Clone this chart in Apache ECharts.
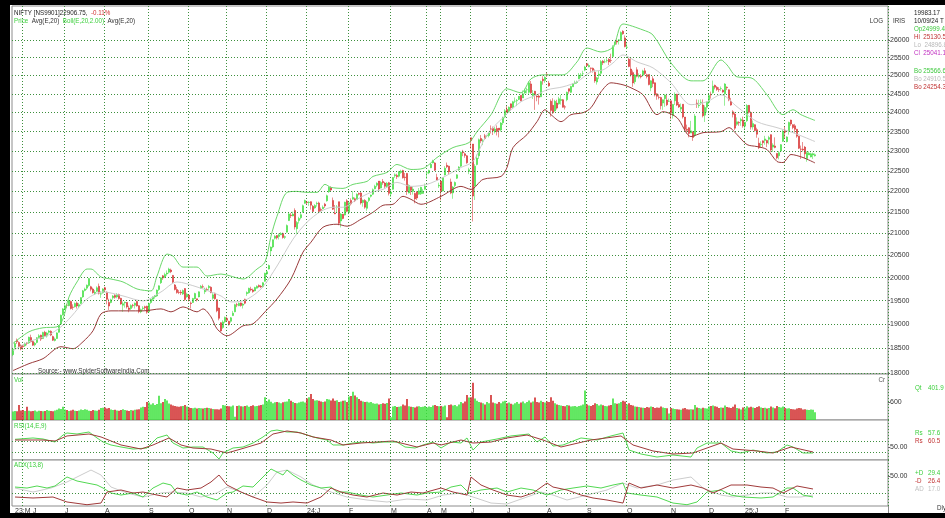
<!DOCTYPE html>
<html>
<head>
<meta charset="utf-8">
<script src="https://cdn.jsdelivr.net/npm/echarts@6/dist/echarts.min.js"></script>
<style>
  html, body { margin: 0; padding: 0; background: #fff; }
  #chart { width: 945px; height: 518px; }
</style>
</head>
<body>
<div id="chart"></div>
<script>
const FONT = '"Liberation Sans", Arial, sans-serif'

// daily candles, May 2023 .. Feb 2025 (one row per month)
const closes = [
  18480, 18598, 18633, 18534, 18487,
  18534, 18593, 18599, 18726, 18635, 18563, 18601, 18716, 18756, 18688, 18826, 18755, 18816, 18857, 18771, 18665, 18691, 18817, 18972, 19189, 19322,
  19389, 19398, 19497, 19331, 19356, 19439, 19384, 19413, 19564, 19711, 19749, 19833, 19979, 19745, 19672, 19681, 19778, 19659, 19646, 19753,
  19733, 19527, 19382, 19517, 19597, 19571, 19632, 19543, 19428, 19434, 19465, 19365, 19310, 19393, 19396, 19444, 19386, 19265, 19306, 19342, 19347, 19253,
  19435, 19528, 19574, 19611, 19727, 19820, 19996, 19993, 20070, 20103, 20192, 20133, 19901, 19742, 19674, 19674, 19665, 19716, 19524, 19638,
  19529, 19436, 19545, 19653, 19512, 19690, 19811, 19794, 19751, 19731, 19811, 19671, 19624, 19542, 19281, 19122, 18857, 19047, 19141,
  19080, 18989, 19133, 19231, 19412, 19406, 19444, 19395, 19425, 19444, 19675, 19765, 19732, 19694, 19784, 19812, 19802, 19794, 19889, 20097,
  20133, 20268, 20687, 20855, 20937, 20901, 20969, 20997, 20906, 20926, 21183, 21456, 21418, 21453, 21150, 21255, 21349, 21441, 21654, 21778,
  21731, 21741, 21665, 21517, 21658, 21710, 21513, 21544, 21618, 21647, 21894, 22097, 22032, 21571, 21462, 21622, 21238, 21453, 21352, 21737, 21522,
  21725, 21697, 21853, 21771, 21929, 21930, 21718, 21782, 21616, 21743, 21840, 21911, 22040, 22122, 22197, 22055, 22217, 22212, 22122, 22198, 21951,
  21982, 22338, 22405, 22356, 22474, 22493, 22332, 22335, 21997, 22146, 22023, 22055, 21817, 21839, 22011, 22096, 22004, 22123,
  22453, 22514, 22666, 22753, 22519, 22272, 22147,
  21995, 22336, 22570, 22604, 22476, 21957, 22104, 22217, 22403, 22597, 22967, 22957, 22888, 22704, 22531,
  23264, 21884, 22620, 22821, 23290, 23259, 23264, 23323, 23399, 23465, 23557, 23516, 23567, 23501, 23538, 23721, 23868, 24044,
  24011, 24141, 24124, 24286, 24302, 24323, 24433, 24316, 24502, 24586, 24613, 24800, 24530, 24509, 24479, 24413, 24406, 24834, 24857, 24951,
  25010, 24718, 24055, 23992, 24297, 24117, 24367, 24347, 24139, 24143, 24541, 24572, 24698, 24770, 24811, 24823, 25010, 25017, 25052, 25235,
  25279, 25278, 25198, 25145, 24852, 24936, 25041, 25388, 25356, 25383, 25418, 25377, 25415, 25791, 25939, 25940, 26005, 26216, 26178, 25811,
  25797, 25250, 25014, 24796, 25013, 24981, 24998, 24964, 25128, 25057, 24971, 24750, 24854, 24781, 24472, 24435, 24399, 24180, 24339, 24466, 24205, 24304,
  23995, 24213, 24484, 24199, 24148, 24141, 23883, 23559, 23532, 23453, 23518, 23349, 23907, 24221, 24194, 24274, 23914, 24131, 24276,
  24457, 24467, 24708, 24677, 24619, 24610, 24641, 24548, 24768, 24668, 24336, 24198, 23951, 23587, 23753, 23727, 23813, 23644,
  23742, 24188, 24005, 23616, 23707, 23526, 23431, 23085, 23176, 23213, 23311, 23203, 23344, 23024, 23155, 23092, 22829, 22957, 23163, 23508,
  23482, 23361, 23739, 23696, 23603, 23560, 23381, 23071, 23045, 23031, 22929, 22959, 22945, 22932, 22933, 22906.75
]
const opens = [
  18370, 18520, 18660, 18620, 18560,
  18550, 18550, 18600, 18610, 18720, 18640, 18570, 18620, 18720, 18770, 18700, 18830, 18750, 18830, 18850, 18740, 18660, 18700, 18830, 19000, 19200,
  19320, 19400, 19390, 19480, 19360, 19370, 19450, 19380, 19440, 19580, 19720, 19770, 19830, 19800, 19750, 19650, 19700, 19810, 19640, 19670,
  19780, 19680, 19460, 19460, 19560, 19610, 19580, 19630, 19550, 19400, 19450, 19460, 19340, 19330, 19400, 19400, 19480, 19390, 19260, 19330, 19370, 19380,
  19260, 19460, 19530, 19580, 19600, 19740, 19890, 20040, 20010, 20080, 20120, 20170, 20050, 19840, 19740, 19680, 19680, 19640, 19760, 19580,
  19620, 19450, 19460, 19540, 19540, 19580, 19770, 19800, 19690, 19740, 19780, 19790, 19550, 19660, 19520, 19340, 19030, 18930, 19050,
  19120, 19060, 19060, 19180, 19260, 19410, 19390, 19450, 19400, 19530, 19650, 19670, 19750, 19730, 19710, 19770, 19830, 19810, 19800, 19920,
  20080, 20190, 20600, 20690, 20890, 20950, 20930, 20970, 21000, 20910, 21030, 21300, 21430, 21410, 21540, 21110, 21300, 21370, 21500, 21710,
  21740, 21730, 21750, 21640, 21600, 21700, 21720, 21560, 21580, 21690, 21770, 21990, 22080, 21780, 21480, 21620, 21750, 21290, 21450, 21430, 21770,
  21490, 21780, 21810, 21820, 21800, 21950, 21960, 21730, 21780, 21590, 21780, 21880, 21930, 22060, 22150, 22250, 22080, 22240, 22200, 22110, 22210,
  21940, 22050, 22380, 22390, 22370, 22460, 22510, 22350, 22440, 21960, 22120, 22000, 21950, 21990, 21930, 21940, 21950, 22050,
  22450, 22450, 22580, 22700, 22700, 22340, 22130,
  22250, 22010, 22400, 22640, 22620, 22230, 21960, 22140, 22320, 22530, 22620, 22980, 22930, 22880, 22490,
  23340, 23180, 22130, 22660, 22880, 23320, 23250, 23390, 23390, 23400, 23570, 23580, 23490, 23580, 23590, 23540, 23730, 23880,
  24080, 24010, 24230, 24140, 24300, 24310, 24350, 24460, 24390, 24520, 24610, 24540, 24770, 24450, 24570, 24440, 24440, 24420, 24900, 24860,
  25030, 24790, 24300, 24190, 24040, 24250, 24230, 24320, 24340, 24150, 24340, 24640, 24540, 24690, 24780, 24810, 24910, 25000, 25050, 25150,
  25330, 25240, 25210, 25200, 25090, 24820, 25000, 25060, 25400, 25380, 25410, 25450, 25420, 25530, 25870, 25970, 25980, 26010, 26250, 26060,
  25790, 25450, 25180, 25080, 24830, 25160, 24970, 24990, 25010, 25130, 25020, 25030, 24660, 24910, 24800, 24500, 24410, 24400, 24250, 24370, 24330, 24300,
  24310, 23920, 24310, 24490, 24210, 24090, 24220, 23880, 23560, 23600, 23460, 23490, 23410, 24250, 24180, 24260, 24200, 23930, 24140,
  24270, 24490, 24530, 24730, 24680, 24620, 24640, 24600, 24500, 24680, 24610, 24300, 24020, 23960, 23690, 23740, 23780, 23800,
  23640, 23780, 24190, 24000, 23620, 23680, 23550, 23200, 23160, 23260, 23270, 23270, 23300, 23420, 23100, 23130, 22940, 22880, 23000, 23250,
  23530, 23240, 23510, 23800, 23680, 23650, 23560, 23380, 23050, 23050, 23100, 22810, 22900, 22850, 22900, 22880
]
const highs = [
  18510, 18640, 18700, 18640, 18580,
  18570, 18620, 18630, 18740, 18780, 18660, 18630, 18730, 18790, 18780, 18840, 18860, 18840, 18880, 18870, 18760, 18720, 18830, 18980, 19200, 19340,
  19430, 19430, 19520, 19500, 19420, 19460, 19480, 19450, 19570, 19730, 19780, 19850, 19990, 19820, 19780, 19730, 19810, 19870, 19700, 19770,
  19800, 19700, 19540, 19540, 19620, 19640, 19660, 19650, 19560, 19480, 19480, 19470, 19390, 19420, 19430, 19460, 19500, 19400, 19330, 19380, 19390, 19390,
  19460, 19550, 19590, 19620, 19740, 19830, 20010, 20060, 20110, 20160, 20220, 20200, 20060, 19860, 19800, 19730, 19730, 19740, 19770, 19670,
  19630, 19480, 19560, 19670, 19540, 19700, 19840, 19850, 19780, 19780, 19840, 19810, 19660, 19670, 19530, 19350, 19040, 19080, 19160,
  19160, 19070, 19150, 19280, 19430, 19450, 19460, 19460, 19450, 19540, 19700, 19780, 19800, 19760, 19800, 19830, 19850, 19840, 19900, 20110,
  20160, 20290, 20700, 20860, 20960, 20960, 21000, 21030, 21020, 20950, 21210, 21490, 21480, 21510, 21590, 21290, 21390, 21480, 21680, 21800,
  21770, 21760, 21760, 21670, 21690, 21750, 21750, 21610, 21660, 21720, 21920, 22120, 22120, 21850, 21670, 21670, 21750, 21480, 21460, 21750, 21810,
  21740, 21830, 22000, 21850, 21950, 21970, 21980, 21800, 21810, 21770, 21860, 21920, 22070, 22160, 22220, 22250, 22250, 22300, 22230, 22230, 22230,
  22060, 22350, 22440, 22430, 22500, 22530, 22530, 22450, 22450, 22170, 22130, 22120, 21970, 22000, 22080, 22110, 22060, 22190,
  22480, 22530, 22700, 22780, 22720, 22430, 22210,
  22260, 22350, 22620, 22710, 22630, 22310, 22130, 22240, 22420, 22620, 22990, 23030, 22960, 22900, 22580,
  23340, 23180, 22670, 22910, 23320, 23410, 23310, 23440, 23410, 23490, 23660, 23630, 23620, 23660, 23590, 23750, 23890, 24090,
  24170, 24160, 24240, 24310, 24400, 24360, 24440, 24460, 24590, 24640, 24660, 24840, 24850, 24600, 24580, 24480, 24500, 24860, 24980, 24980,
  25080, 24850, 24350, 24380, 24340, 24340, 24420, 24470, 24360, 24200, 24560, 24640, 24720, 24790, 24860, 24860, 25070, 25070, 25130, 25270,
  25340, 25330, 25220, 25220, 25170, 24960, 25130, 25430, 25430, 25450, 25480, 25480, 25610, 25850, 25960, 26010, 26030, 26250, 26280, 26130,
  25910, 25490, 25490, 25140, 25040, 25230, 25060, 25040, 25160, 25210, 25050, 25030, 24870, 24980, 24810, 24510, 24490, 24420, 24350, 24490, 24500, 24370,
  24320, 24230, 24540, 24500, 24280, 24240, 24220, 23880, 23680, 23610, 23780, 23510, 23960, 24350, 24340, 24350, 24350, 24190, 24300,
  24480, 24560, 24860, 24750, 24710, 24680, 24700, 24620, 24790, 24700, 24620, 24390, 24060, 24000, 23870, 23770, 23860, 23890,
  23760, 24220, 24200, 24030, 23790, 23690, 23600, 23340, 23250, 23270, 23390, 23290, 23390, 23430, 23200, 23350, 22940, 23000, 23180, 23550,
  23630, 23380, 23760, 23810, 23690, 23700, 23570, 23390, 23140, 23230, 23130, 22990, 22990, 22960, 22960, 22940
]
const lows = [
  18340, 18490, 18590, 18480, 18460,
  18470, 18530, 18560, 18590, 18620, 18550, 18540, 18600, 18700, 18650, 18690, 18740, 18720, 18800, 18750, 18650, 18640, 18690, 18820, 18990, 19180,
  19300, 19340, 19380, 19310, 19300, 19350, 19330, 19340, 19420, 19560, 19700, 19730, 19800, 19700, 19650, 19620, 19680, 19630, 19560, 19650,
  19700, 19420, 19300, 19440, 19520, 19540, 19550, 19520, 19410, 19260, 19350, 19330, 19250, 19300, 19350, 19330, 19370, 19230, 19230, 19290, 19300, 19220,
  19250, 19430, 19490, 19540, 19580, 19710, 19860, 19950, 19990, 20040, 20090, 20100, 19880, 19720, 19650, 19640, 19620, 19620, 19490, 19560,
  19480, 19330, 19450, 19530, 19480, 19570, 19760, 19770, 19640, 19700, 19720, 19660, 19520, 19520, 19250, 19080, 18840, 18900, 19020,
  19050, 18970, 19030, 19170, 19250, 19360, 19380, 19370, 19330, 19420, 19600, 19650, 19700, 19670, 19700, 19760, 19780, 19770, 19780, 19910,
  20050, 20180, 20500, 20660, 20860, 20860, 20860, 20960, 20880, 20870, 21020, 21290, 21360, 21400, 21090, 20980, 21230, 21330, 21490, 21700,
  21680, 21650, 21560, 21500, 21580, 21630, 21490, 21500, 21570, 21600, 21750, 21960, 21990, 21550, 21450, 21500, 21190, 21140, 21330, 21420, 21500,
  21450, 21660, 21800, 21740, 21790, 21900, 21680, 21630, 21580, 21530, 21740, 21850, 21910, 22050, 22100, 22020, 22070, 22160, 22070, 22080, 21900,
  21860, 22040, 22330, 22300, 22340, 22430, 22310, 22260, 21910, 21950, 21910, 21920, 21710, 21790, 21920, 21910, 21940, 22040,
  22300, 22420, 22570, 22690, 22500, 22260, 22080,
  21780, 22000, 22390, 22570, 22400, 21930, 21820, 22100, 22300, 22500, 22600, 22870, 22830, 22680, 22420,
  23060, 21280, 21790, 22640, 22800, 23200, 23150, 23290, 23350, 23350, 23450, 23410, 23450, 23400, 23350, 23500, 23670, 23850,
  23990, 23990, 24070, 24100, 24250, 24170, 24330, 24300, 24390, 24500, 24510, 24500, 24500, 24360, 24070, 24300, 24210, 24410, 24750, 24800,
  24960, 24690, 23890, 23960, 24020, 24080, 24210, 24210, 24130, 24080, 24300, 24500, 24520, 24690, 24760, 24770, 24900, 24930, 24990, 25120,
  25240, 25230, 25080, 25080, 24800, 24750, 24900, 25010, 25290, 25340, 25360, 25290, 25350, 25520, 25810, 25870, 25870, 25970, 26150, 25790,
  25740, 25230, 24970, 24690, 24760, 24950, 24920, 24920, 24970, 25010, 24920, 24730, 24570, 24680, 24430, 24340, 24350, 24080, 24070, 24150, 24170, 24280,
  23820, 23840, 24200, 24170, 24120, 24010, 23840, 23510, 23480, 23350, 23460, 23260, 23360, 24120, 24120, 24200, 23870, 23750, 24000,
  24220, 24370, 24500, 24620, 24580, 24550, 24580, 24530, 24180, 24600, 24300, 24180, 23870, 23540, 23650, 23650, 23650, 23600,
  23560, 23750, 23970, 23550, 23550, 23500, 23340, 23050, 23080, 23100, 23160, 23100, 23170, 22980, 22980, 23070, 22790, 22790, 22970, 23230,
  23320, 23220, 23420, 23650, 23560, 23470, 23340, 23050, 22800, 22990, 22810, 22730, 22900, 22840, 22800, 22860
]
// volume, crore
const volumes = [
  280, 300, 290, 500, 320,
  330, 300, 440, 310, 290, 300, 320, 280, 310, 300, 290, 300, 330, 310, 300, 290, 320, 340, 380, 370, 440,
  350, 330, 300, 320, 340, 310, 300, 320, 350, 330, 360, 340, 310, 300, 330, 320, 310, 340, 400, 410,
  420, 380, 400, 350, 330, 340, 320, 310, 330, 360, 330, 320, 300, 330, 320, 340, 350, 360, 420, 440, 430, 600,
  580, 520, 560, 500, 530, 810, 560, 600, 700, 650, 550, 520, 480, 470, 450, 440, 460, 470, 500, 450,
  420, 400, 390, 410, 380, 400, 390, 380, 400, 410, 400, 380, 370, 360, 360, 350, 380, 500, 480,
  470, 460, 450, 480, 110, 470, 480, 460, 450, 470, 480, 440, 470, 490, 460, 470, 480, 500, 520, 760,
  620, 680, 610, 560, 590, 600, 580, 560, 590, 610, 620, 700, 640, 600, 570, 560, 580, 610, 620, 580,
  720, 760, 870, 700, 650, 660, 640, 620, 600, 620, 700, 680, 650, 720, 640, 660, 600, 620, 640, 650, 600,
  780, 800, 940, 820, 760, 700, 640, 620, 600, 610, 580, 600, 560, 540, 550, 520, 530, 560, 540, 570, 720,
  90, 450, 470, 430, 440, 460, 520, 480, 700, 460, 440, 430, 420, 450, 460, 430, 440, 470,
  420, 450, 430, 480, 500, 470, 460,
  470, 450, 480, 90, 500, 520, 480, 500, 460, 520, 600, 560, 620, 830, 750,
  760, 1240, 720, 640, 600, 580, 560, 520, 600, 560, 830, 580, 560, 540, 600, 560, 620, 640,
  560, 580, 540, 520, 560, 600, 540, 580, 620, 560, 600, 650, 580, 620, 750, 600, 580, 640, 600, 580,
  620, 600, 760, 640, 560, 520, 500, 480, 470, 460, 500, 480, 450, 460, 470, 440, 470, 480, 520, 980,
  520, 480, 470, 500, 560, 530, 480, 520, 490, 470, 460, 480, 500, 720, 560, 540, 560, 600, 640, 620,
  520, 560, 500, 480, 450, 440, 430, 420, 410, 400, 430, 420, 450, 430, 400, 420, 410, 450, 420, 400, 390, 220,
  400, 380, 370, 360, 350, 340, 380, 400, 360, 350, 360, 350, 500, 420, 400, 380, 410, 390, 380,
  450, 470, 480, 460, 440, 400, 420, 410, 480, 430, 420, 400, 440, 520, 400, 380, 350, 420,
  390, 460, 420, 440, 420, 400, 430, 460, 420, 400, 410, 380, 400, 450, 420, 390, 470, 430, 420, 450,
  400, 380, 390, 370, 360, 350, 380, 400, 390, 350, 360, 340, 330, 350, 340, 254.54
]

// overlay lines: [candle index, value]
const bollUpper = [[0,18600],[8,18840],[15,18923],[22,18943],[25,19111],[28,19579],[32,19905],[37,20191],[39,20191],[44,20014],[49,19970],[55,19905],[62,19752],[69,19709],[72,20036],[77,20527],[80,20482],[85,20235],[92,20235],[97,20036],[104,20080],[115,19970],[122,20191],[126,20347],[129,20937],[132,21403],[137,21974],[142,21998],[147,21974],[152,21974],[156,22169],[159,22096],[165,22071],[170,22169],[177,22242],[180,22365],[187,22463],[192,22662],[199,22537],[205,22562],[212,22836],[220,23089],[228,23216],[232,23498],[239,23942],[247,24636],[254,24527],[259,24908],[265,25018],[275,25018],[282,25378],[287,25772],[294,25658],[300,25800],[305,26463],[315,26289],[320,26143],[329,25350],[339,24853],[345,24853],[354,25434],[357,25294],[362,24963],[369,24936],[377,24474],[385,23942],[390,24074],[394,23942],[401,23790]]
const bollLower = [[0,18050],[8,18189],[15,18289],[24,18532],[30,18491],[35,18634],[40,18861],[44,19216],[49,19280],[65,19280],[74,19322],[79,19259],[85,19365],[92,19259],[95,19322],[99,19153],[102,18902],[107,18757],[115,18964],[120,19006],[126,19259],[132,19536],[139,19970],[145,20572],[149,20799],[155,21145],[162,21215],[167,21169],[174,21332],[180,21497],[185,21663],[190,21687],[195,21878],[199,21806],[204,21687],[214,21878],[224,22120],[229,22047],[235,22291],[244,22365],[247,22587],[250,23089],[257,23421],[262,23759],[266,24074],[269,23942],[274,23759],[279,23942],[285,23995],[289,24127],[294,24555],[299,24799],[305,24745],[309,24663],[315,24474],[322,23942],[325,24021],[332,23863],[339,23370],[345,23472],[354,23498],[358,23602],[362,23421],[367,23165],[372,23114],[377,23038],[382,22736],[385,22711],[389,22912],[395,22836],[401,22700]]
const ema20 = [[0,18451],[8,18634],[17,18758],[24,18943],[29,19153],[37,19536],[45,19687],[55,19600],[65,19493],[74,19687],[82,19905],[92,19796],[99,19687],[104,19600],[109,19472],[115,19493],[124,19752],[132,20258],[140,20868],[147,21262],[154,21521],[160,21616],[165,21616],[172,21806],[179,21975],[185,22047],[192,22218],[199,22120],[207,22169],[215,22340],[224,22587],[230,22736],[237,23421],[245,23863],[254,24287],[262,24474],[267,24609],[275,24690],[282,24826],[289,25101],[295,25156],[300,25350],[305,25574],[312,25378],[320,25211],[329,24799],[339,24207],[347,24287],[354,24474],[362,24154],[372,23759],[382,23602],[390,23472],[401,23242]]
const rsiLine = [[1,64.5],[10,67],[15,65.1],[21,59.4],[25,72.6],[27,76.4],[32,74.5],[38,78.3],[42,67],[45,59.4],[49,53.8],[54,50],[60,46.2],[67,48.1],[72,67],[77,72.6],[80,57.5],[85,48.1],[90,50],[95,50],[100,38.7],[103,27.4],[105,38.7],[110,48.1],[115,50],[120,57.5],[125,68.9],[129,80.2],[132,82],[137,78.3],[142,78.3],[147,72.6],[152,67],[157,63.2],[160,53.8],[165,53.8],[170,57.5],[175,59.4],[180,57.5],[185,59.4],[192,59.4],[196,50],[201,48.1],[205,53.8],[210,59.4],[214,48.1],[219,59.4],[224,57.5],[227,67],[230,44.3],[234,59.4],[242,65.1],[249,70.8],[258,74.5],[262,59.4],[266,68.9],[270,51.9],[275,53.8],[284,67],[292,63.2],[299,70.8],[305,76.4],[308,44.3],[314,36.8],[322,31.1],[330,34.9],[339,31.1],[342,48.1],[347,57.5],[354,57.5],[359,42.5],[364,38.7],[370,44.3],[377,38.7],[382,40.6],[387,53.8],[390,50],[395,38.7],[400,38.7]]
const rsiSignal = [[1,63.2],[15,63.2],[21,61.3],[27,70.8],[38,74.5],[44,68.9],[54,53.8],[64,46.2],[70,53.8],[78,67],[84,53.8],[90,48.1],[99,46.2],[107,38.7],[114,46.2],[124,57.5],[130,74.5],[137,80.2],[144,76.4],[150,68.9],[159,63.2],[165,53.8],[174,57.5],[190,61.3],[202,50],[210,57.5],[214,53.8],[224,63.2],[230,57.5],[239,59.4],[247,67],[257,72.6],[265,63.2],[274,50],[289,63.2],[304,70.8],[310,53.8],[320,42.5],[330,36.8],[340,38.7],[354,57.5],[360,46.2],[372,42.5],[380,38.7],[389,50],[400,40.6]]
const plusDI = [[1,31],[7,29.3],[12,32.8],[17,29.3],[21,32.8],[25,43.1],[27,48.3],[32,41.4],[37,37.9],[42,34.5],[45,29.3],[49,20.7],[54,17.2],[60,20.7],[65,13.8],[70,29.3],[75,37.9],[79,34.5],[82,20.7],[87,17.2],[92,22.4],[97,13.8],[102,8.6],[107,20.7],[110,22.4],[115,32.8],[120,31],[125,48.3],[129,62.1],[132,56.9],[135,51.7],[137,60.3],[140,51.7],[144,43.1],[149,34.5],[154,29.3],[159,31],[162,22.4],[167,22.4],[174,17.2],[180,13.8],[187,17.2],[194,20.7],[202,17.2],[207,20.7],[214,22.4],[219,31],[224,34.5],[228,20.7],[234,25.9],[242,29.3],[247,22.4],[254,29.3],[260,25.9],[267,17.2],[274,25.9],[280,29.3],[287,32.8],[294,29.3],[300,34.5],[305,37.9],[307,20.7],[314,17.2],[322,13.8],[330,3.4],[337,0.5],[342,5.2],[347,22.4],[354,25.9],[359,17.2],[365,13.8],[374,12.1],[380,13.8],[387,29.3],[390,29.3],[395,17.2],[400,13.8]]
const minusDI = [[1,13.8],[10,12.1],[20,13.8],[27,5.2],[37,0.5],[44,3.4],[47,22.4],[54,25.9],[60,20.7],[65,22.4],[72,17.2],[77,13.8],[82,29.3],[87,25.9],[94,29.3],[99,39.7],[103,51.7],[107,34.5],[114,22.4],[120,13.8],[127,5.2],[134,3.4],[140,5.2],[147,3.4],[154,13.8],[159,29.3],[164,22.4],[170,17.2],[177,13.8],[185,20.7],[192,17.2],[199,22.4],[205,20.7],[214,29.3],[220,22.4],[227,17.2],[229,48.3],[234,34.5],[240,25.9],[247,17.2],[254,13.8],[260,20.7],[267,37.9],[270,31],[277,25.9],[284,17.2],[290,12.1],[297,8.6],[305,3.4],[308,37.9],[314,29.3],[322,34.5],[330,29.3],[339,34.5],[345,29.3],[350,20.7],[359,34.5],[367,34.5],[374,31],[380,29.3],[385,20.7],[392,32.8],[400,27.6]]
const adxLine = [[1,29.3],[10,22.4],[19,29.3],[27,39.7],[39,60.3],[44,51.7],[49,31],[57,20.7],[65,13.8],[74,20.7],[80,22.4],[87,20.7],[94,13.8],[102,20.7],[107,31],[114,22.4],[120,13.8],[127,34.5],[132,56.9],[137,60.3],[144,48.3],[150,34.5],[159,22.4],[167,13.8],[177,8.6],[187,5.2],[197,10.3],[207,8.6],[215,17.2],[224,20.7],[230,13.8],[239,3.4],[247,1.7],[257,13.8],[264,22.4],[270,17.2],[277,8.6],[287,17.2],[297,25.9],[305,37.9],[312,29.3],[322,34.5],[330,43.1],[339,48.3],[345,29.3],[354,17.2],[360,13.8],[367,17.2],[374,20.7],[380,20.7],[387,13.8],[394,13.8],[400,17.2]]

const priceTicks = [18000, 18500, 19000, 19500, 20000, 20500, 21000, 21500, 22000, 22500, 23000, 23500, 24000, 24500, 25000, 25500, 26000]
const monthGrid = [5, 26, 46, 68, 88, 107, 127, 147, 168, 189, 207, 214, 229, 247, 267, 287, 307, 329, 348, 366, 386]
const monthLabels = [[1,'23:M'],[10,'J'],[26,'J'],[46,'A'],[68,'S'],[88,'O'],[107,'N'],[127,'D'],[147,'24:J'],[168,'F'],[189,'M'],[207,'A'],[214,'M'],[229,'J'],[247,'J'],[267,'A'],[287,'S'],[307,'O'],[329,'N'],[348,'D'],[366,'25:J'],[386,'F']]

const SLOTS = 438
const categories = Array.from({ length: SLOTS }, (_, i) => String(i))
const labelAt = {}
monthLabels.forEach(([i, t]) => { labelAt[i] = t })
const gridSet = new Set(monthGrid)

const UP = '#33dd33', DOWN = '#d42020'
const GRIDC = '#3d8f3d'
const candles = closes.map((c, i) => [opens[i], c, lows[i], highs[i]])
const volBars = volumes.map((v, i) => ({
    value: v,
    itemStyle: { color: closes[i] >= opens[i] ? '#3be23b' : '#d02a2a' }
}))

// panels share one x scale: 438 slots of exactly 2px
const panels = [
    { top: 6, height: 368 },
    { top: 374, height: 46 },
    { top: 420, height: 40 },
    { top: 460, height: 46 }
]

const dotted = { color: GRIDC, type: [1, 2], width: 1 }
const SX = 0.78

function txt(x, y, text, fill, align) {
    return {
        type: 'text', x: x, y: y, z: 110, scaleX: SX,
        style: { text: text, fill: fill, font: '8px ' + FONT, verticalAlign: 'middle', align: align || 'left' }
    }
}
function richTxt(x, y, text, rich) {
    return {
        type: 'text', x: x, y: y, z: 110, scaleX: SX,
        style: { text: text, font: '8px ' + FONT, verticalAlign: 'middle', rich: rich }
    }
}

const chart = echarts.init(document.getElementById('chart'))
chart.setOption({
    animation: false,
    backgroundColor: '#fff',
    grid: panels.map(p => ({
        left: 12, width: 876, top: p.top, height: p.height,
        show: true, borderColor: '#8c8c8c', borderWidth: 1, backgroundColor: '#fff'
    })),
    xAxis: panels.map((p, k) => ({
        type: 'category', gridIndex: k, data: categories, boundaryGap: true,
        axisLine: { show: false }, axisTick: { show: false },
        axisLabel: k === 3 ? {
            show: true,
            interval: (i) => labelAt[i] !== undefined,
            formatter: (v, i) => labelAt[i] || '',
            align: 'left', margin: 2, fontSize: 7, color: '#333', fontFamily: FONT
        } : { show: false },
        splitLine: { show: true, interval: (i) => gridSet.has(i), lineStyle: dotted }
    })),
    yAxis: [
        {
            type: 'log', gridIndex: 0, position: 'right', logBase: 10, min: 17982, max: 26994,
            axisLine: { show: false }, splitLine: { show: false },
            axisTick: { show: true, customValues: priceTicks, length: 2, lineStyle: { color: '#666' } },
            axisLabel: { customValues: priceTicks, fontSize: 7, color: '#333', margin: 2, fontFamily: FONT, formatter: v => String(Math.round(v)) }
        },
        {
            type: 'value', gridIndex: 1, position: 'right', min: 0, max: 1533,
            axisLine: { show: false }, splitLine: { show: false },
            axisTick: { show: true, customValues: [600], length: 2, lineStyle: { color: '#666' } },
            axisLabel: { customValues: [600], fontSize: 7, color: '#333', margin: 2, fontFamily: FONT }
        },
        {
            type: 'value', gridIndex: 2, position: 'right', min: 25.5, max: 100.9,
            axisLine: { show: false }, splitLine: { show: false },
            axisTick: { show: true, customValues: [50], length: 2, lineStyle: { color: '#666' } },
            axisLabel: { customValues: [50], fontSize: 7, color: '#333', margin: 2, fontFamily: FONT, formatter: v => v.toFixed(2) }
        },
        {
            type: 'value', gridIndex: 3, position: 'right', min: -1.7, max: 77.6,
            axisLine: { show: false }, splitLine: { show: false },
            axisTick: { show: true, customValues: [50], length: 2, lineStyle: { color: '#666' } },
            axisLabel: { customValues: [50], fontSize: 7, color: '#333', margin: 2, fontFamily: FONT, formatter: v => v.toFixed(2) }
        }
    ],
    series: [
        {
            type: 'candlestick', xAxisIndex: 0, yAxisIndex: 0, data: candles, barWidth: 1.6, large: false,
            itemStyle: { color: UP, color0: DOWN, borderColor: UP, borderColor0: DOWN, borderWidth: 0.5 },
            markLine: {
                silent: true, symbol: ['none', 'none'], animation: false,
                label: { show: false },
                lineStyle: dotted,
                data: priceTicks.map(v => ({ yAxis: v })).concat([{
                    yAxis: 22906.75,
                    lineStyle: { opacity: 0 },
                    label: {
                        show: true, position: 'end', formatter: '22906.7', distance: 2,
                        backgroundColor: '#000', color: '#fff', padding: [1, 1, 0, 1],
                        fontSize: 7, fontFamily: FONT
                    }
                }])
            }
        },
        { type: 'line', xAxisIndex: 0, yAxisIndex: 0, data: ema20, symbol: 'none', smooth: 0.3, lineStyle: { color: '#cdcdcd', width: 1 } },
        { type: 'line', xAxisIndex: 0, yAxisIndex: 0, data: bollUpper, symbol: 'none', smooth: 0.3, lineStyle: { color: '#6ad86a', width: 1 } },
        { type: 'line', xAxisIndex: 0, yAxisIndex: 0, data: bollLower, symbol: 'none', smooth: 0.3, lineStyle: { color: '#9a3b3b', width: 1 } },
        {
            type: 'bar', xAxisIndex: 1, yAxisIndex: 1, data: volBars, barWidth: '80%',
            markLine: {
                silent: true, symbol: ['none', 'none'], animation: false,
                data: [{
                    yAxis: 254.54, lineStyle: { opacity: 0 },
                    label: {
                        show: true, position: 'end', formatter: '254.54', distance: 2,
                        backgroundColor: '#000', color: '#fff', padding: [1, 1, 0, 1],
                        fontSize: 7, fontFamily: FONT
                    }
                }]
            }
        },
        {
            type: 'line', xAxisIndex: 2, yAxisIndex: 2, data: rsiLine, symbol: 'none', lineStyle: { color: '#52d852', width: 1 },
            markLine: {
                silent: true, symbol: ['none', 'none'], animation: false, label: { show: false },
                lineStyle: dotted, data: [{ yAxis: 40 }, { yAxis: 60 }]
            }
        },
        { type: 'line', xAxisIndex: 2, yAxisIndex: 2, data: rsiSignal, symbol: 'none', lineStyle: { color: '#a03a3a', width: 1 } },
        { type: 'line', xAxisIndex: 3, yAxisIndex: 3, data: adxLine, symbol: 'none', lineStyle: { color: '#cccccc', width: 1 } },
        {
            type: 'line', xAxisIndex: 3, yAxisIndex: 3, data: plusDI, symbol: 'none', lineStyle: { color: '#52d852', width: 1 },
            markLine: {
                silent: true, symbol: ['none', 'none'], animation: false, label: { show: false },
                lineStyle: dotted, data: [{ yAxis: 20 }]
            }
        },
        { type: 'line', xAxisIndex: 3, yAxisIndex: 3, data: minusDI, symbol: 'none', lineStyle: { color: '#a03a3a', width: 1 } }
    ],
    graphic: [
        { type: 'rect', z: 100, shape: { x: 0, y: 0, width: 945, height: 5 }, style: { fill: '#000' } },
        { type: 'rect', z: 100, shape: { x: 0, y: 0, width: 10, height: 518 }, style: { fill: '#000' } },
        { type: 'rect', z: 100, shape: { x: 0, y: 513, width: 945, height: 5 }, style: { fill: '#000' } },
        { type: 'line', z: 100, shape: { x1: 888.5, y1: 506, x2: 888.5, y2: 513 }, style: { stroke: '#8c8c8c' } },
        richTxt(14, 13, '{a|NIFTY [NS9901]22906.75,}  {r|-0.11%}', {
            a: { fill: '#222', font: '8px ' + FONT }, r: { fill: '#d03030', font: '8px ' + FONT }
        }),
        richTxt(14, 21, '{g|Price}  {k|Avg(E,20)}  {g|Boll(E,20,2.00)}  {k|Avg(E,20)}', {
            g: { fill: '#3ccf3c', font: '8px ' + FONT }, k: { fill: '#333', font: '8px ' + FONT }
        }),
        txt(883, 21, 'LOG', '#333', 'right'),
        txt(893, 21, 'IRIS', '#333'),
        txt(914, 13, '19983.17', '#222'),
        txt(914, 20.5, '10/09/24 T', '#222'),
        txt(914, 28.5, 'Op24999.4', '#3cc83c'),
        txt(914, 37, 'Hi  25130.5', '#c03030'),
        txt(914, 44.5, 'Lo  24896.8', '#b8b8b8'),
        txt(914, 53, 'Cl  25041.1', '#c030c0'),
        txt(914, 70.5, 'Bo 25566.6', '#3cc83c'),
        txt(914, 78.5, 'Bo 24910.5', '#b8b8b8'),
        txt(914, 87, 'Bo 24254.3', '#c03030'),
        txt(38, 371, 'Source:- www.SpiderSoftwareIndia.Com', '#333'),
        txt(14, 379.5, 'Vol', '#3ccf3c'),
        txt(885, 380, 'Cr', '#555', 'right'),
        txt(14, 426, 'RSI(14,E,9)', '#3ccf3c'),
        txt(14, 465, 'ADX(13,8)', '#3ccf3c'),
        txt(915, 388, 'Qt', '#3ccf3c'), txt(928, 388, '401.9', '#3ccf3c'),
        txt(915, 433, 'Rs', '#3ccf3c'), txt(928, 433, '57.6', '#3ccf3c'),
        txt(915, 441, 'Rs', '#c03030'), txt(928, 441, '60.5', '#c03030'),
        txt(915, 473, '+D', '#3ccf3c'), txt(928, 473, '29.4', '#3ccf3c'),
        txt(915, 481, '-D', '#c03030'), txt(928, 481, '26.4', '#c03030'),
        txt(915, 489, 'AD', '#c0c0c0'), txt(928, 489, '17.0', '#c0c0c0'),
        txt(937, 508, 'Dly', '#333')
    ]
})
</script>
</body>
</html>
